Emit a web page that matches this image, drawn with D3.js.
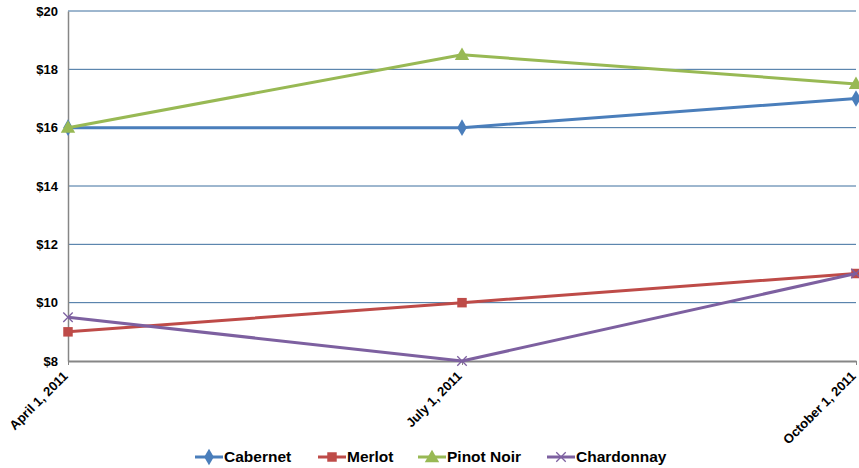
<!DOCTYPE html>
<html>
<head>
<meta charset="utf-8">
<script src="https://cdn.jsdelivr.net/npm/d3@7"></script>
<style>
  body { margin: 0; background: #fff; }
  svg { display: block; font-family: "Liberation Sans", Arial, sans-serif; }
</style>
</head>
<body>
<svg id="chart" width="859" height="468"></svg>
<script>
// Wine prices by quarter
const dates = ["April 1, 2011", "July 1, 2011", "October 1, 2011"];
const cabernet = [16, 16, 17];
const merlot = [9, 10, 11];
const pinotNoir = [16, 18.5, 17.5];
const chardonnay = [9.5, 8, 11];
const yTicks = [8, 10, 12, 14, 16, 18, 20];

const series = [
  { name: "Cabernet", values: cabernet, color: "#4A7EBB", marker: "diamond" },
  { name: "Merlot", values: merlot, color: "#BE4B48", marker: "square" },
  { name: "Pinot Noir", values: pinotNoir, color: "#98B954", marker: "triangle" },
  { name: "Chardonnay", values: chardonnay, color: "#7D60A0", marker: "x" }
];

const svg = d3.select("#chart");
const margin = { left: 68, right: 3, top: 11, bottom: 107 };
const W = 859, H = 468;

const x = d3.scalePoint().domain(dates).range([margin.left, W - margin.right]);
const y = d3.scaleLinear().domain([8, 20]).range([H - margin.bottom, margin.top]);

// Horizontal gridlines
svg.append("g").selectAll("line")
  .data(yTicks.filter(t => t > 8))
  .join("line")
  .attr("x1", margin.left).attr("x2", W - margin.right)
  .attr("y1", d => y(d)).attr("y2", d => y(d))
  .attr("stroke", "#3C6E9E").attr("stroke-width", 1);

// Y axis
const yAxis = svg.append("g")
  .attr("transform", `translate(${margin.left},0)`)
  .call(d3.axisLeft(y).tickValues(yTicks).tickFormat(d => "$" + d).tickSize(0).tickPadding(10));
yAxis.select(".domain").attr("stroke", "#868686").attr("stroke-width", 1.5);
yAxis.selectAll("text").attr("font-size", 13).attr("font-weight", "bold").attr("fill", "#000");

// X axis with rotated date labels
const xAxis = svg.append("g")
  .attr("transform", `translate(0,${y(8)})`)
  .call(d3.axisBottom(x).tickSize(4).tickSizeOuter(0));
xAxis.select(".domain").attr("stroke", "#868686").attr("stroke-width", 2);
xAxis.selectAll(".tick line").attr("stroke", "#868686");
xAxis.selectAll("text")
  .attr("font-size", 13).attr("font-weight", "bold").attr("fill", "#000")
  .attr("text-anchor", "end")
  .attr("dy", 0)
  .attr("transform", "translate(0,16) rotate(-45)")
  .attr("x", 0).attr("y", 0);

const line = d3.line().x((d, i) => x(dates[i])).y(d => y(d));

function drawMarker(g, type, color, cx, cy) {
  if (type === "diamond") {
    g.append("path").attr("d", d3.symbol(d3.symbolDiamond, 80)()).attr("transform", `translate(${cx},${cy})`).attr("fill", color);
  } else if (type === "square") {
    g.append("path").attr("d", d3.symbol(d3.symbolSquare, 90)()).attr("transform", `translate(${cx},${cy})`).attr("fill", color);
  } else if (type === "triangle") {
    g.append("path").attr("d", d3.symbol(d3.symbolTriangle, 90)()).attr("transform", `translate(${cx},${cy + 1})`).attr("fill", color);
  } else {
    g.append("path").attr("d", d3.symbol(d3.symbolX, 60)()).attr("transform", `translate(${cx},${cy})`)
      .attr("fill", "none").attr("stroke", color).attr("stroke-width", 1.3);
  }
}

const plot = svg.append("g");
series.forEach(s => {
  const g = plot.append("g");
  g.append("path").datum(s.values).attr("d", line)
    .attr("fill", "none").attr("stroke", s.color).attr("stroke-width", 3).attr("stroke-linejoin", "round");
  s.values.forEach((v, i) => drawMarker(g, s.marker, s.color, x(dates[i]), y(v)));
});

// Legend
const legendX = [195, 318, 418, 547];
const legend = svg.append("g").attr("transform", "translate(0,457)");
series.forEach((s, i) => {
  const g = legend.append("g").attr("transform", `translate(${legendX[i]},0)`);
  g.append("line").attr("x1", 0).attr("x2", 28).attr("y1", 0).attr("y2", 0)
    .attr("stroke", s.color).attr("stroke-width", 3);
  drawMarker(g, s.marker, s.color, 14, 0);
  g.append("text").attr("x", 29).attr("y", 0).attr("dy", "0.35em")
    .attr("font-size", 15.5).attr("font-weight", "bold").attr("fill", "#000").text(s.name);
});
</script>
</body>
</html>
